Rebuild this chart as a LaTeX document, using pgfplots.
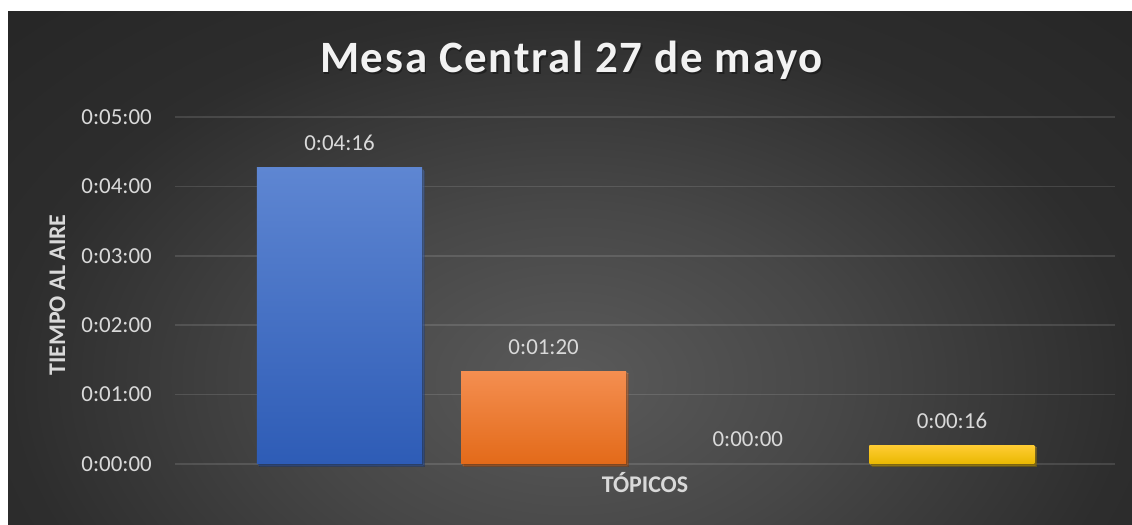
\documentclass[border=0pt]{standalone}
\usepackage{fontspec}
\setmainfont{Carlito}
\newfontfamily\titlefont[LetterSpace=4]{Carlito Bold}
\usepackage{pgfplots}
\pgfplotsset{compat=1.18}
\usetikzlibrary{shadows}

\definecolor{txt}{HTML}{D9D9D9}
\definecolor{titlecol}{HTML}{F2F2F2}
\definecolor{bgin}{HTML}{5A5A5A}
\definecolor{bgmid}{HTML}{474747}
\definecolor{bgedge}{HTML}{2D2D2D}
\definecolor{bgout}{HTML}{262626}
\definecolor{blueT}{HTML}{5E86D2}
\definecolor{blueB}{HTML}{2E5CB6}
\definecolor{orangeT}{HTML}{F48E50}
\definecolor{orangeB}{HTML}{E36A19}
\definecolor{yellowT}{HTML}{FFCC33}
\definecolor{yellowB}{HTML}{E9B800}
\definecolor{greyT}{HTML}{B5B5B5}
\definecolor{greyB}{HTML}{8F8F8F}

\pgfdeclareradialshading{chartbg}{\pgfpoint{0bp}{0bp}}{%
  color(0bp)=(bgin); color(12bp)=(bgmid); color(25bp)=(bgedge);
  color(36bp)=(bgout); color(50bp)=(bgout)}

\tikzset{barshadow/.style={
  drop shadow={shadow xshift=2.5bp, shadow yshift=-2.5bp, fill=black, opacity=0.3},
  drop shadow={shadow xshift=1.2bp, shadow yshift=-1.2bp, fill=black, opacity=0.3}}}

\begin{document}
\begin{tikzpicture}
% page and chart area
\fill[white] (0,0) rectangle (1132bp,525bp);
\begin{scope}
  \clip (8bp,0) rectangle (1132bp,513bp);
  \shade[shading=chartbg] (8bp,-223bp) rectangle (1132bp,513bp);
\end{scope}

\begin{axis}[
  at={(175bp,61bp)}, anchor=south west,
  scale only axis, width=940bp, height=347bp,
  xmin=-0.806, xmax=3.799, ymin=0, ymax=300,
  clip=false,
  axis line style={draw=none},
  major tick length=0pt,
  xtick=\empty,
  ytick={0,60,120,180,240,300},
  yticklabels={0:00:00,0:01:00,0:02:00,0:03:00,0:04:00,0:05:00},
  yticklabel style={font=\fontsize{23}{23}\selectfont, text=txt,
    inner sep=0pt, xshift=-23bp},
  ymajorgrids,
  grid style={line width=1.5bp, white, opacity=0.12},
  bar width=0.809,
]
% bars, values in seconds
\addplot[ybar, bar shift=0pt, draw=none, top color=blueT, bottom color=blueB, barshadow]
  coordinates {(0,256)};
\addplot[ybar, bar shift=0pt, draw=none, top color=orangeT, bottom color=orangeB, barshadow]
  coordinates {(1,80)};
\addplot[ybar, bar shift=0pt, draw=none, top color=greyT, bottom color=greyB]
  coordinates {(2,0)};
\addplot[ybar, bar shift=0pt, draw=none, top color=yellowT, bottom color=yellowB, barshadow]
  coordinates {(3,16)};
% data labels
\addplot[draw=none, mark=none, nodes near coords, point meta=explicit symbolic,
  nodes near coords style={anchor=base, yshift=17bp, inner sep=0pt,
    text=txt, font=\fontsize{23}{23}\selectfont}]
  coordinates {(0,256) [0:04:16] (1,80) [0:01:20] (2,0) [0:00:00] (3,16) [0:00:16]};
\end{axis}

% title with a soft shadow
\node[anchor=base, text=black, opacity=0.35, font=\titlefont\fontsize{45}{45}\selectfont]
  at (573bp,450.5bp) {Mesa Central 27 de mayo};
\node[anchor=base, text=titlecol, font=\titlefont\fontsize{45}{45}\selectfont]
  at (571.5bp,452bp) {Mesa Central 27 de mayo};
% axis titles
\node[anchor=base, text=txt, font=\bfseries\fontsize{24}{24}\selectfont]
  at (645bp,33bp) {TÓPICOS};
\node[anchor=base, rotate=90, text=txt, font=\bfseries\fontsize{24}{24}\selectfont]
  at (65bp,230bp) {TIEMPO AL AIRE};
\end{tikzpicture}
\end{document}
